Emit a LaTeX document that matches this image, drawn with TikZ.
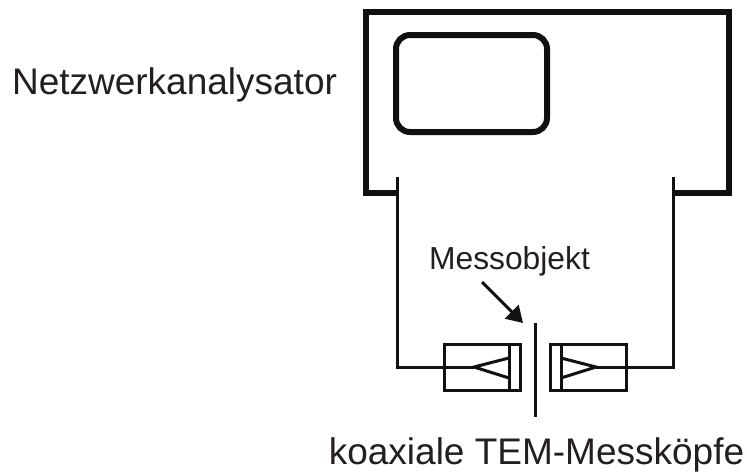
\documentclass[tikz,border=0pt]{standalone}
\usepackage{fontspec}
\setmainfont{Liberation Sans}
\usepackage{xcolor}
\usetikzlibrary{positioning}
\usetikzlibrary{arrows.meta}
\definecolor{ink}{HTML}{111111}
\definecolor{textink}{HTML}{231F20}

\begin{document}
\begin{tikzpicture}[
  x=1pt, y=-1pt,
  housing/.style={draw=ink, line width=6pt, miter limit=10},
  display/.style={rectangle, rounded corners=14pt, draw=ink, line width=6pt, minimum width=151pt, minimum height=97pt, inner sep=0pt},
  wire/.style={draw=ink, line width=3pt},
  probe/.style={rectangle, draw=ink, line width=3pt, minimum width=76pt, minimum height=46pt, inner sep=0pt, outer sep=0pt},
  big/.style={text=textink, font=\fontsize{37}{40}\selectfont, inner sep=0pt, anchor=base},
  small/.style={text=textink, font=\fontsize{31.8}{36}\selectfont, inner sep=0pt, anchor=base},
]
  \useasboundingbox (0,0) rectangle (747,472);

  % analyser
  \node[display] (screen) at (471.5,83.5) {};
  \coordinate (portl) at (397,177);
  \coordinate (portr) at (673,177);
  \coordinate (stubl) at (397,193);
  \coordinate (stubr) at (673,193);
  \draw[housing] (stubl) -- (366,193) -- (366,12) -- (729,12) -- (729,193) -- (stubr);

  % probes
  \node[probe] (probel) at (482,367) {};
  \node[probe] (prober) at (588,367) {};
  \coordinate (tipl) at (474,367);
  \coordinate (tipr) at (596,367);
  \draw[wire] (509,344) -- (509,390);
  \draw[wire] (561,344) -- (561,390);
  \draw[wire] (509,358) -- (tipl) -- (509,378);
  \draw[wire] (561,358) -- (tipr) -- (561,378);

  % wires
  \draw[wire] (portl) |- (tipl);
  \draw[wire] (portr) |- (tipr);

  % object
  \coordinate (bartop) at (535,323);
  \coordinate (barbot) at (535,417);
  \draw[wire] (bartop) -- (barbot);

  \node[big] (analyser) at (174.5,94.5) {Netzwerkanalysator};
  \node[small] (object) at (509.5,269) {Messobjekt};
  \node[big] (heads) at (536.5,464) {koaxiale TEM-Messköpfe};

  \coordinate (arrowstart) at (482,282);
  \coordinate (arrowend) at (523,323);
  \draw[wire, -{Triangle[length=16pt,width=19pt]}] (arrowstart) -- (arrowend);
\end{tikzpicture}
\end{document}
